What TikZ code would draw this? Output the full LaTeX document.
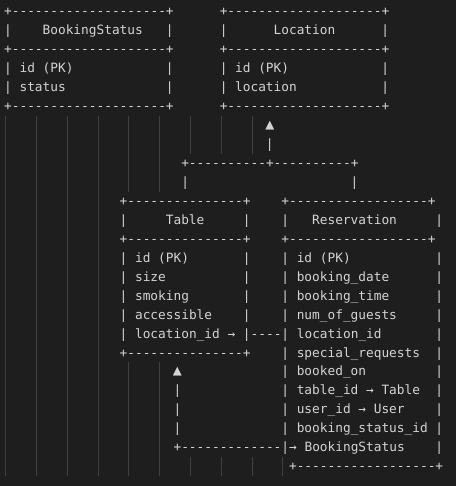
\documentclass[tikz,border=0pt]{standalone}
\usepackage{fontspec}
\setmonofont{DejaVu Sans Mono}
\definecolor{bg}{HTML}{1E1E1E}
\definecolor{fg}{HTML}{D4D4D4}
\definecolor{guide}{HTML}{404040}
\tikzset{
  txt/.style={anchor=base west, inner sep=0pt, outer sep=0pt, text=fg,
    font=\ttfamily\fontsize{12.8}{19}\selectfont},
  tri/.style={anchor=center, inner sep=0pt, outer sep=0pt, text=fg,
    font=\ttfamily\fontsize{15}{19}\selectfont},
  guideline/.style={draw=guide, line width=0.8pt}
}
\newcommand\tx[3]{\node[txt] (r#1c#2) at ({4.15+7.7*#2},{15.9+18.95*#1}) {#3};}
\newcommand\up[2]{\node[tri] (r#1c#2) at ({8+7.7*#2},{11.9+18.95*#1}) {▲};}
\begin{document}
\begin{tikzpicture}[x=1pt,y=-1pt]
\fill[bg] (0,0) rectangle (456,486);
\useasboundingbox (0,0) rectangle (456,486);
% indent guides
\foreach \k in {0,1,2,3}{\draw[guideline] ({5.5+30.8*\k},115.9) -- ({5.5+30.8*\k},476.0);}
\foreach \k in {4,5}{\draw[guideline] ({5.5+30.8*\k},115.9) -- ({5.5+30.8*\k},191.7);
  \draw[guideline] ({5.5+30.8*\k},362.3) -- ({5.5+30.8*\k},476.0);}
\foreach \k in {6,7,8}{\draw[guideline] ({5.5+30.8*\k},115.9) -- ({5.5+30.8*\k},153.8);
  \draw[guideline] ({5.5+30.8*\k},457.0) -- ({5.5+30.8*\k},476.0);}
\draw[guideline] ({5.5+30.8*9},457.0) -- ({5.5+30.8*9},476.0);
% BookingStatus and Location
\tx{0}{0}{+--------------------+}
\tx{0}{28}{+--------------------+}
\tx{1}{0}{|}\tx{1}{5}{BookingStatus}\tx{1}{21}{|}
\tx{1}{28}{|}\tx{1}{35}{Location}\tx{1}{49}{|}
\tx{2}{0}{+--------------------+}
\tx{2}{28}{+--------------------+}
\tx{3}{0}{| id (PK)}\tx{3}{21}{|}\tx{3}{28}{| id (PK)}\tx{3}{49}{|}
\tx{4}{0}{| status}\tx{4}{21}{|}\tx{4}{28}{| location}\tx{4}{49}{|}
\tx{5}{0}{+--------------------+}
\tx{5}{28}{+--------------------+}
% connector to Location
\up{6}{34}
\tx{7}{34}{|}
\tx{8}{23}{+----------+----------+}
\tx{9}{23}{|}\tx{9}{45}{|}
% Table and Reservation
\tx{10}{15}{+---------------+}
\tx{10}{36}{+------------------+}
\tx{11}{15}{|}\tx{11}{21}{Table}\tx{11}{31}{|}
\tx{11}{36}{|}\tx{11}{40}{Reservation}\tx{11}{56}{|}
\tx{12}{15}{+---------------+}
\tx{12}{36}{+------------------+}
\tx{13}{15}{| id (PK)}\tx{13}{31}{|}\tx{13}{36}{| id (PK)}\tx{13}{56}{|}
\tx{14}{15}{| size}\tx{14}{31}{|}\tx{14}{36}{| booking\_date}\tx{14}{56}{|}
\tx{15}{15}{| smoking}\tx{15}{31}{|}\tx{15}{36}{| booking\_time}\tx{15}{56}{|}
\tx{16}{15}{| accessible}\tx{16}{31}{|}\tx{16}{36}{| num\_of\_guests}\tx{16}{56}{|}
\tx{17}{15}{| location\_id → |----| location\_id}\tx{17}{56}{|}
\tx{18}{15}{+---------------+}\tx{18}{36}{| special\_requests}\tx{18}{56}{|}
\up{19}{22}\tx{19}{36}{| booked\_on}\tx{19}{56}{|}
\tx{20}{22}{|}\tx{20}{36}{| table\_id → Table}\tx{20}{56}{|}
\tx{21}{22}{|}\tx{21}{36}{| user\_id → User}\tx{21}{56}{|}
\tx{22}{22}{|}\tx{22}{36}{| booking\_status\_id |}
\tx{23}{22}{+-------------|→ BookingStatus}\tx{23}{56}{|}
\tx{24}{37}{+------------------+}
\end{tikzpicture}
\end{document}
